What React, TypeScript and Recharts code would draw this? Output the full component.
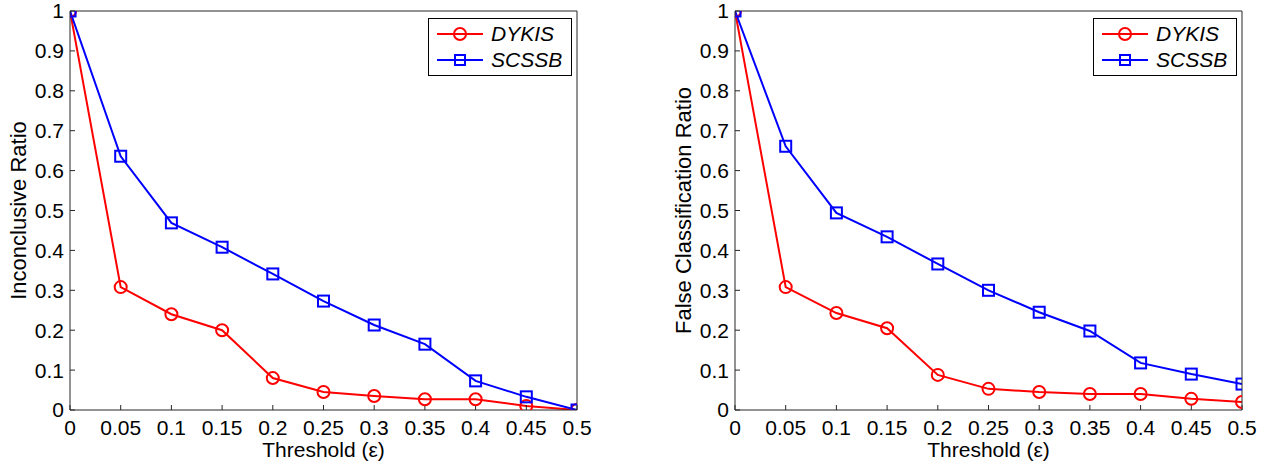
import React from 'react';
import { LineChart, Line, XAxis, YAxis } from 'recharts';

const thresholds = [0, 0.05, 0.1, 0.15, 0.2, 0.25, 0.3, 0.35, 0.4, 0.45, 0.5];
const yTicks = [0, 0.1, 0.2, 0.3, 0.4, 0.5, 0.6, 0.7, 0.8, 0.9, 1];

const seriesNames = ['DYKIS', 'SCSSB'];

// inconclusive ratio (left)
const inconclusiveDykis = [1, 0.308, 0.24, 0.2, 0.08, 0.045, 0.035, 0.027, 0.027, 0.01, 0];
const inconclusiveScssb = [1, 0.636, 0.469, 0.408, 0.341, 0.273, 0.213, 0.165, 0.073, 0.033, 0];

// false classification ratio (right)
const falseDykis = [1, 0.308, 0.243, 0.205, 0.088, 0.053, 0.045, 0.04, 0.04, 0.028, 0.02];
const falseScssb = [1, 0.661, 0.494, 0.434, 0.366, 0.3, 0.245, 0.198, 0.118, 0.09, 0.065];

const RED = '#ff0000';
const BLUE = '#0000ff';
const AXIS = '#262626';
const FONT = '"Liberation Sans", Arial, Helvetica, sans-serif';

const buildRows = (a: number[], b: number[]) =>
  thresholds.map((t, i) => ({ t, dykis: a[i], scssb: b[i] }));

const SquareDot = (props: any) => {
  const { cx, cy, index } = props;
  if (cx == null || cy == null) return null;
  return (
    <rect key={`sq-${index}`} x={cx - 5.5} y={cy - 5.5} width={11} height={11}
      fill="none" stroke={BLUE} strokeWidth={2} />
  );
};

const LegendBox = ({ left }: { left: number }) => (
  <svg width={144} height={58} style={{ position: 'absolute', left, top: 18 }}>
    <rect x={0.5} y={0.5} width={143} height={57} fill="#fff" stroke="#000" strokeWidth={1} />
    <line x1={9} x2={55} y1={16} y2={16} stroke={RED} strokeWidth={2} />
    <circle cx={32} cy={16} r={6} fill="none" stroke={RED} strokeWidth={2} />
    <text x={63} y={23} fontSize={21} fontStyle="italic" fontFamily={FONT} fill="#000">{seriesNames[0]}</text>
    <line x1={9} x2={55} y1={42} y2={42} stroke={BLUE} strokeWidth={2} />
    <rect x={27} y={37} width={10} height={10} fill="none" stroke={BLUE} strokeWidth={2} />
    <text x={63} y={49} fontSize={21} fontStyle="italic" fontFamily={FONT} fill="#000">{seriesNames[1]}</text>
  </svg>
);

interface PanelProps {
  rows: any[];
  ylabel: string;
  width: number;
  yAxisWidth: number;
  rightMargin: number;
  legendLeft: number;
  ylabelX: number;
}

const tickStyle = { fontSize: 21, fill: '#000', fontFamily: FONT };

const Panel = ({ rows, ylabel, width, yAxisWidth, rightMargin, legendLeft, ylabelX }: PanelProps) => (
  <div style={{ position: 'relative', width, height: 468 }}>
    <LineChart width={width} height={468} data={rows}
      margin={{ top: 10, right: rightMargin, left: 0, bottom: 0 }}>
      <XAxis dataKey="t" type="number" domain={[0, 0.5]} ticks={thresholds}
        allowDataOverflow interval={0} height={58}
        stroke={AXIS} tickSize={-5} tickMargin={15} tick={tickStyle}
        tickFormatter={(v: number) => String(v)}
        label={(p: any) => {
          const vb = p.viewBox;
          return (
            <text x={vb.x + vb.width / 2} y={457} textAnchor="middle" fontSize={21}
              fontFamily={FONT} fill="#000">Threshold (ε)</text>
          );
        }} />
      <XAxis xAxisId="top" orientation="top" type="number" domain={[0, 0.5]} ticks={thresholds}
        allowDataOverflow interval={0} height={1} stroke={AXIS} tickSize={-5} tick={false} />
      <YAxis type="number" domain={[0, 1]} ticks={yTicks} allowDataOverflow interval={0}
        width={yAxisWidth} stroke={AXIS} tickSize={-5} tickMargin={11} tick={tickStyle}
        tickFormatter={(v: number) => String(v)}
        label={(p: any) => {
          const vb = p.viewBox;
          const cy = vb.y + vb.height / 2;
          return (
            <text x={ylabelX} y={cy} textAnchor="middle" dominantBaseline="central"
              transform={`rotate(-90 ${ylabelX} ${cy})`} fontSize={22} fontFamily={FONT}
              fill="#000">{ylabel}</text>
          );
        }} />
      <YAxis yAxisId="right" orientation="right" type="number" domain={[0, 1]} ticks={yTicks}
        allowDataOverflow interval={0} width={1} stroke={AXIS} tickSize={-5} tick={false} />
      <Line type="linear" dataKey="dykis" name={seriesNames[0]} stroke={RED} strokeWidth={2}
        dot={{ r: 6, fill: 'none', stroke: RED, strokeWidth: 2 }} isAnimationActive={false} />
      <Line type="linear" dataKey="scssb" name={seriesNames[1]} stroke={BLUE} strokeWidth={2}
        dot={<SquareDot />} isAnimationActive={false} />
    </LineChart>
    <LegendBox left={legendLeft} />
  </div>
);

export default function App() {
  return (
    <div style={{ position: 'absolute', left: 0, top: 0, width: 1281, height: 468, display: 'flex', background: '#fff' }}>
      <Panel rows={buildRows(inconclusiveDykis, inconclusiveScssb)} ylabel="Inconclusive Ratio"
        width={640} yAxisWidth={70} rightMargin={62} legendLeft={428} ylabelX={18} />
      <Panel rows={buildRows(falseDykis, falseScssb)} ylabel="False Classification Ratio"
        width={641} yAxisWidth={95} rightMargin={38} legendLeft={453} ylabelX={43} />
    </div>
  );
}
